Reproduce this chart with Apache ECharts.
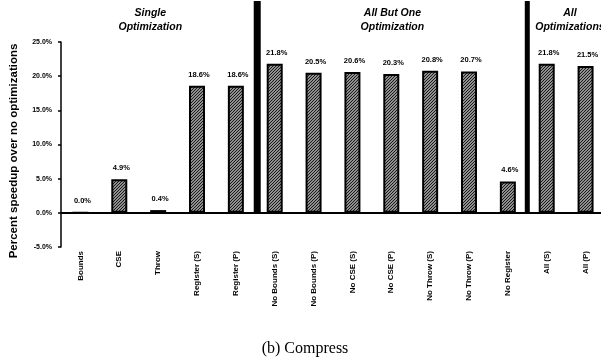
<!DOCTYPE html>
<html>
<head>
<meta charset="utf-8">
<script src="https://cdn.jsdelivr.net/npm/echarts@6/dist/echarts.min.js"></script>
<style>
  html, body { margin: 0; padding: 0; background: #fff; }
  #chart { width: 601px; height: 364px; }
</style>
</head>
<body>
<div id="chart"></div>
<script>
const categories = [
  'Bounds', 'CSE', 'Throw', 'Register (S)', 'Register (P)',
  'No Bounds (S)', 'No Bounds (P)', 'No CSE (S)', 'No CSE (P)',
  'No Throw (S)', 'No Throw (P)', 'No Register', 'All (S)', 'All (P)'
];
const speedup = [0.0, 4.9, 0.4, 18.6, 18.6, 21.8, 20.5, 20.6, 20.3, 20.8, 20.7, 4.6, 21.8, 21.5];
const yTicks = [-5, 0, 5, 10, 15, 20, 25];
// group dividers sit between category slots
const dividers = [4.55, 11.5];
const dividerTop = 31;
const groups = [
  { name: 'Single\nOptimization', at: 1.67 },
  { name: 'All But One\nOptimization', at: 7.9 },
  { name: 'All\nOptimizations', at: 12.47 }
];

const font = '"Liberation Sans", Arial, sans-serif';

// diagonal hatch fill like the printed bars
const hatch = document.createElement('canvas');
hatch.width = 3; hatch.height = 3;
const hc = hatch.getContext('2d');
hc.fillStyle = '#fff';
hc.fillRect(0, 0, 3, 3);
hc.strokeStyle = '#1a1a1a';
hc.lineWidth = 1.4;
hc.beginPath();
hc.moveTo(0, 3); hc.lineTo(3, 0);
hc.moveTo(-1, 1); hc.lineTo(1, -1);
hc.moveTo(2, 4); hc.lineTo(4, 2);
hc.stroke();

const chart = echarts.init(document.getElementById('chart'));

const gridLeft = 61, gridRight = -4, gridWidth = 601 - gridLeft - gridRight;
const slot = gridWidth / categories.length;

const option = {
  animation: false,
  backgroundColor: '#fff',
  title: groups.map(g => ({
    text: g.name,
    left: gridLeft + (g.at + 0.5) * slot,
    top: 1,
    textAlign: 'center',
    textStyle: {
      fontFamily: font, fontSize: 10.5, fontWeight: 'bold', fontStyle: 'italic',
      color: '#000', lineHeight: 14
    }
  })).concat([{
    text: '(b) Compress',
    left: 300,
    top: 336,
    textAlign: 'center',
    textStyle: { fontFamily: '"Liberation Serif", "Times New Roman", serif', fontSize: 16, fontWeight: 'normal', color: '#000' }
  }]),
  grid: { left: gridLeft, right: gridRight, top: 42, bottom: 117, containLabel: false, outerBoundsMode: 'none' },
  xAxis: [
    {
      type: 'category',
      data: categories,
      axisLine: { show: false, onZero: false },
      axisTick: { show: false },
      axisLabel: {
        rotate: 90, margin: 4, interval: 0,
        fontFamily: font, fontSize: 8, fontWeight: 'bold', color: '#000'
      }
    },
    { type: 'value', min: -0.5, max: categories.length - 0.5, show: false }
  ],
  yAxis: {
    type: 'value',
    min: yTicks[0], max: yTicks[yTicks.length - 1], interval: 5,
    name: 'Percent speedup over no optimizations',
    nameLocation: 'middle',
    nameGap: 41,
    nameTextStyle: { fontFamily: font, fontSize: 11.5, fontWeight: 'bold', color: '#000', padding: [0, 13, 0, 0] },
    axisLine: { show: true, onZero: false, lineStyle: { color: '#000', width: 1.5 } },
    axisTick: { show: true, length: 3, lineStyle: { color: '#000', width: 1.5 } },
    axisLabel: {
      margin: 9, fontFamily: font, fontSize: 7, fontWeight: 'bold', color: '#000',
      formatter: v => v.toFixed(1) + '%'
    },
    splitLine: { show: false }
  },
  series: [
    {
      type: 'bar',
      data: speedup,
      barWidth: 16,
      itemStyle: {
        color: { image: hatch, repeat: 'repeat' },
        borderColor: '#000',
        borderWidth: 2
      },
      label: {
        show: true, position: 'top', distance: 7, offset: [2, 0],
        fontFamily: font, fontSize: 7.5, fontWeight: 'bold', color: '#000',
        formatter: p => p.value.toFixed(1) + '%'
      },
      markLine: {
        silent: true,
        symbol: ['none', 'none'],
        label: { show: false },
        lineStyle: { color: '#000', width: 2, type: 'solid' },
        data: [{ yAxis: 0 }]
      }
    },
    {
      type: 'custom',
      xAxisIndex: 1,
      clip: false,
      silent: true,
      data: dividers.map((d, i) => [d, 0, dividerTop, i === 0 ? 7 : 5]),
      renderItem: (params, api) => {
        const bottom = api.coord([api.value(0), api.value(1)]);
        const top = api.coord([api.value(0), api.value(2)]);
        const w = api.value(3);
        return {
          type: 'rect',
          shape: { x: bottom[0] - w / 2, y: Math.max(top[1], 0), width: w, height: bottom[1] - Math.max(top[1], 0) },
          style: { fill: '#000' }
        };
      }
    }
  ]
};

chart.setOption(option);
</script>
</body>
</html>
